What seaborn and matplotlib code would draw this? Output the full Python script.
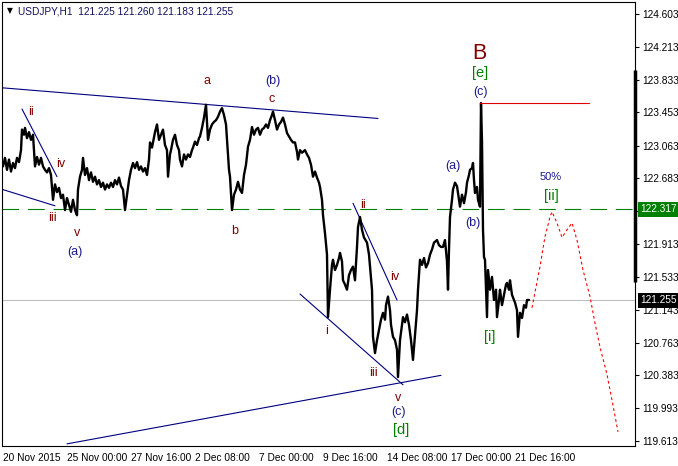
import matplotlib
matplotlib.use("Agg")
import matplotlib.pyplot as plt
import pandas as pd
import seaborn as sns

# USDJPY H1 closes (bar = hour index on the chart)
price_bar = [3, 5, 7, 9, 11, 13, 15, 17, 19, 21, 22, 24, 25, 27, 29, 31, 33, 35, 37, 39,
             41, 43, 45, 47, 49, 51, 53, 55, 57, 59, 61, 63, 65, 67, 69, 71, 73, 75, 77, 78,
             80, 82, 83, 85, 87, 89, 91, 93, 95, 97, 99, 101, 103, 105, 107, 109, 111, 113, 115, 117,
             119, 121, 123, 125, 127, 129, 131, 133, 135, 137, 139, 141, 143, 145, 147, 149, 150, 152, 155, 157,
             159, 161, 163, 165, 167, 168, 170, 171, 173, 175, 177, 179, 180, 182, 184, 186, 188, 190, 192, 193,
             195, 197, 199, 200, 202, 204, 206, 208, 210, 212, 214, 216, 218, 220, 222, 224, 226, 227, 228, 229,
             230, 232, 234, 236, 238, 240, 242, 244, 246, 248, 250, 252, 254, 256, 258, 260, 262, 264, 266, 268,
             270, 272, 273, 275, 277, 279, 281, 283, 285, 287, 289, 291, 293, 295, 297, 298, 300, 302, 305, 307,
             309, 311, 313, 315, 317, 319, 320, 322, 323, 325, 327, 328, 330, 332, 333, 335, 337, 339, 340, 342,
             343, 345, 347, 349, 351, 353, 355, 357, 358, 360, 362, 364, 367, 369, 370, 372, 373, 375, 377, 379,
             381, 383, 385, 386, 388, 390, 391, 393, 395, 397, 398, 400, 402, 403, 405, 407, 409, 411, 413, 415,
             417, 418, 420, 422, 424, 426, 428, 430, 432, 434, 437, 439, 441, 443, 445, 447, 448, 449, 450, 452,
             453, 455, 457, 459, 460, 462, 464, 466, 467, 469, 470, 472, 473, 474, 475, 477, 478, 480, 481, 482,
             483, 484, 485, 487, 488, 490, 492, 494, 496, 497, 499, 500, 502, 504, 506, 507, 509, 510, 512, 514,
             515, 517, 518, 520, 522, 524, 526, 527, 529]
price_val = [122.82, 122.92, 122.78, 122.90, 122.76, 122.86, 122.80, 122.92, 122.87, 123.01,
             123.25, 123.19, 123.27, 123.15, 123.22, 123.13, 123.19, 122.82, 122.93, 122.84,
             122.92, 122.82, 122.78, 122.75, 122.80, 122.72, 122.43, 122.61, 122.52, 122.57,
             122.45, 122.49, 122.31, 122.45, 122.37, 122.29, 122.43, 122.31, 122.25, 122.55,
             122.70, 122.78, 122.92, 122.72, 122.80, 122.66, 122.75, 122.64, 122.70, 122.61,
             122.66, 122.58, 122.63, 122.55, 122.61, 122.57, 122.63, 122.58, 122.66, 122.61,
             122.69, 122.59, 122.55, 122.31, 122.49, 122.66, 122.78, 122.86, 122.80, 122.87,
             122.78, 122.82, 122.76, 122.80, 122.72, 122.90, 123.10, 123.04, 123.22, 123.31,
             123.13, 123.19, 123.25, 123.07, 123.01, 122.70, 122.96, 123.01, 123.13, 123.19,
             123.07, 123.01, 122.90, 122.82, 122.96, 122.90, 122.96, 122.93, 123.01, 123.04,
             123.11, 123.07, 123.15, 123.17, 123.27, 123.39, 123.54, 123.13, 123.25, 123.31,
             123.34, 123.36, 123.40, 123.46, 123.50, 123.42, 123.31, 123.13, 122.93, 122.78,
             122.70, 122.31, 122.49, 122.55, 122.64, 122.55, 122.51, 122.72, 122.84, 123.05,
             123.13, 123.28, 123.19, 123.25, 123.27, 123.19, 123.25, 123.27, 123.31, 123.27,
             123.36, 123.42, 123.46, 123.36, 123.25, 123.31, 123.34, 123.39, 123.31, 123.21,
             123.17, 123.13, 123.10, 123.10, 122.99, 122.90, 123.01, 122.98, 123.01, 122.96,
             122.92, 122.84, 122.70, 122.76, 122.69, 122.63, 122.58, 122.43, 122.25, 122.04,
             121.79, 121.06, 121.38, 121.67, 121.73, 121.61, 121.67, 121.75, 121.81, 121.71,
             121.49, 121.44, 121.38, 121.55, 121.61, 121.65, 121.49, 121.88, 122.11, 122.23,
             122.08, 121.99, 121.93, 121.79, 121.65, 121.38, 120.83, 120.64, 120.79, 120.91,
             121.03, 121.11, 121.03, 121.20, 121.30, 121.14, 120.97, 120.83, 120.79, 120.68,
             120.36, 120.79, 120.97, 121.06, 121.00, 121.09, 120.97, 120.79, 120.56, 120.85,
             121.14, 121.38, 121.73, 121.67, 121.75, 121.64, 121.69, 121.79, 121.85, 121.93,
             121.96, 121.90, 121.88, 121.88, 121.96, 121.71, 121.38, 121.85, 122.23, 122.43,
             122.55, 122.63, 122.59, 122.43, 122.35, 122.49, 122.39, 122.52, 122.63, 122.72,
             122.78, 122.80, 122.86, 122.66, 122.51, 122.58, 122.43, 122.35, 123.56, 123.11,
             122.08, 121.76, 121.73, 121.06, 121.61, 121.38, 121.53, 121.26, 121.38, 121.06,
             121.26, 121.38, 121.20, 121.32, 121.44, 121.46, 121.38, 121.49, 121.32, 121.26,
             121.23, 121.14, 120.83, 121.11, 121.05, 121.20, 121.17, 121.26, 121.26]

# forecast path (red dotted)
fc_bar = [532, 540, 545, 550, 552, 557, 562, 567, 572, 577, 583, 590, 595, 600, 607, 613, 618]
fc_val = [121.17, 121.65, 122.00, 122.23, 122.29, 122.16, 121.99, 122.08, 122.16, 121.96,
          121.61, 121.30, 120.99, 120.71, 120.39, 120.03, 119.72]

# trend lines: (bar0, price0, bar1, price1)
trend_lines = [
    (0, 123.74, 378, 123.38),
    (0, 122.56, 55, 122.36),
    (22, 123.49, 57, 122.70),
    (67, 119.58, 441, 120.38),
    (300, 121.33, 403, 120.27),
    (353, 122.39, 397, 121.26),
]

level_50 = 122.317
bid = 121.255
top_c = 123.56

y_ticks = [124.603, 124.213, 123.833, 123.453, 123.063, 122.683, 122.303,
           121.913, 121.533, 121.143, 120.763, 120.383, 119.993, 119.613]
x_tick_bars = [3, 67, 131, 195, 259, 323, 387, 451, 515]
x_tick_labels = ['20 Nov 2015', '25 Nov 00:00', '27 Nov 16:00', '2 Dec 08:00', '7 Dec 00:00',
                 '9 Dec 16:00', '14 Dec 08:00', '17 Dec 00:00', '21 Dec 16:00']

MAROON = '#800000'
NAVY = '#1a1a8c'
GREEN = '#008000'

# wave labels: (text, bar, price, colour, size)
wave_labels = [
    ('ii', 31, 123.45, MAROON, 9), ('iv', 61, 122.85, MAROON, 9),
    ('iii', 52, 122.22, MAROON, 9), ('v', 77, 122.04, MAROON, 9),
    ('(a)', 75, 121.82, NAVY, 9), ('a', 207, 123.82, MAROON, 9),
    ('(b)', 273, 123.82, NAVY, 9), ('c', 272, 123.61, MAROON, 9),
    ('b', 235, 122.07, MAROON, 9), ('i', 327, 120.90, MAROON, 9),
    ('ii', 363, 122.37, MAROON, 9), ('iv', 395, 121.53, MAROON, 9),
    ('iii', 373, 120.41, MAROON, 9), ('v', 398, 120.12, MAROON, 9),
    ('(c)', 399, 119.95, NAVY, 9), ('[d]', 401, 119.74, GREEN, 10.5),
    ('B', 479, 124.14, MAROON, 15.5), ('[e]', 480, 123.91, GREEN, 10.5),
    ('(c)', 480, 123.69, NAVY, 9), ('(a)', 453, 122.83, NAVY, 9),
    ('(b)', 473, 122.16, NAVY, 9), ('50%', 551, 122.70, NAVY, 8),
    ('[ii]', 551, 122.48, GREEN, 10.5), ('[i]', 490, 120.83, GREEN, 10.5),
]

sns.set_style('white')
plt.rcParams['font.family'] = ['Liberation Sans', 'DejaVu Sans']

fig = plt.figure(figsize=(6.78, 4.66), dpi=100)
ax = fig.add_axes([2 / 678, 20 / 466, 633 / 678, 444 / 466])
ax.set_xlim(2, 635)
ax.set_ylim(119.555, 124.74)

# reference levels
ax.axhline(bid, color='#c0c0c0', lw=0.8, zorder=1)
ax.axhline(level_50, color=GREEN, lw=0.8, dashes=(15, 8), zorder=1)

for x0, y0, x1, y1 in trend_lines:
    ax.plot([x0, x1], [y0, y1], color='#000080', lw=0.8, zorder=2)

df = pd.DataFrame({'bar': price_bar, 'price': price_val})
sns.lineplot(data=df, x='bar', y='price', color='black', lw=1.7, ax=ax, zorder=3,
             estimator=None, sort=False)

fc = pd.DataFrame({'bar': fc_bar, 'price': fc_val})
sns.lineplot(data=fc, x='bar', y='price', color='#ff0000', lw=0.8, dashes=False, ax=ax,
             estimator=None, sort=False, linestyle=(0, (2.5, 2.5)), zorder=3)

ax.plot([480, 589], [top_c, top_c], color='#e00000', lw=0.8, zorder=3)

for txt, bx, py, col, sz in wave_labels:
    ax.text(bx, py, txt, color=col, fontsize=sz, ha='center', va='center', zorder=5)

# axis styling
for s in ax.spines.values():
    s.set_color('black')
    s.set_linewidth(0.8)
ax.yaxis.tick_right()
ax.set_yticks(y_ticks)
# the 122.303 label sits under the green level box, so leave it blank
ax.set_yticklabels(['' if v == 122.303 else f'{v:.3f}' for v in y_ticks])
ax.tick_params(axis='y', direction='out', length=3, width=0.8, pad=2, labelsize=7.3, colors='black')
ax.set_xticks(x_tick_bars)
ax.set_xticklabels(x_tick_labels, ha='left')
ax.tick_params(axis='x', direction='out', length=3, width=0.8, pad=2, labelsize=7.3, colors='black')
ax.set_xlabel('')
ax.set_ylabel('')

# thick marker bar along the right edge
ax.plot([635, 635], [123.95, 121.47], color='black', lw=2.5, clip_on=False, zorder=6,
        solid_capstyle='butt')

# price boxes on the scale
ytr = ax.get_yaxis_transform()
ax.text(1.0085, level_50, f'{level_50:.3f}', transform=ytr, color='white', fontsize=7.3,
        ha='left', va='center', zorder=7,
        bbox=dict(boxstyle='square,pad=0.25', fc=GREEN, ec='none'))
ax.text(1.0085, bid, f'{bid:.3f}', transform=ytr, color='white', fontsize=7.3,
        ha='left', va='center', zorder=7,
        bbox=dict(boxstyle='square,pad=0.25', fc='black', ec='none'))

# header
fig.text(7 / 678, 1 - 11 / 466, '\u25bc', fontsize=5.5, color='black', va='center', ha='left',
         family='DejaVu Sans')
fig.text(18 / 678, 1 - 11 / 466, 'USDJPY,H1  121.225 121.260 121.183 121.255',
         fontsize=7.3, color='#101060', va='center', ha='left')

fig.savefig('out.png', dpi=100)
